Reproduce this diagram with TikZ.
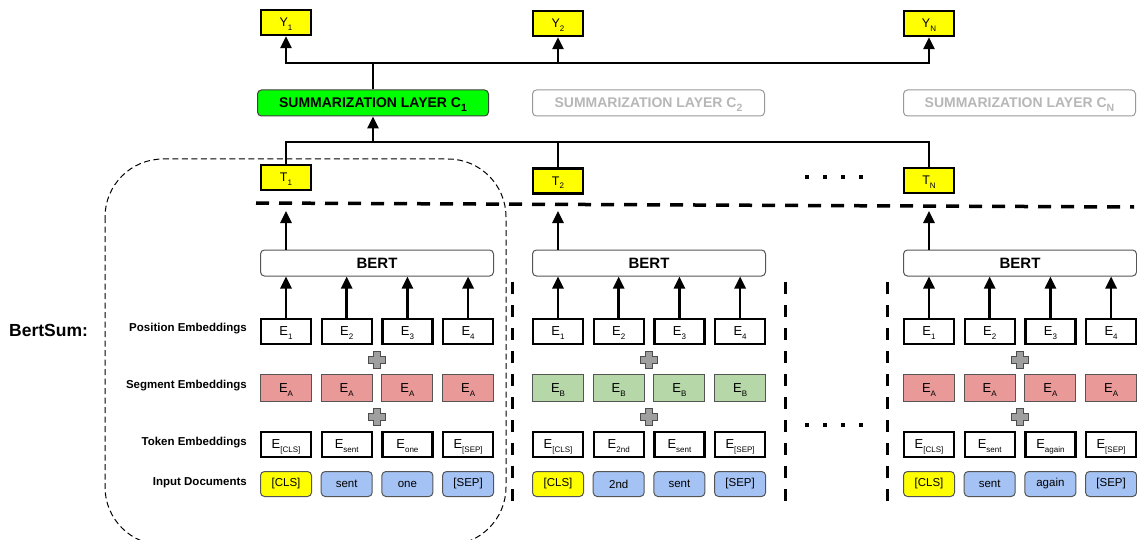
\documentclass[tikz,border=0pt]{standalone}
\usepackage{fontspec}
\setmainfont{Liberation Sans}
\usetikzlibrary{arrows.meta}

\definecolor{segA}{HTML}{EA9999}
\definecolor{segB}{HTML}{B6D7A8}
\definecolor{inpblue}{HTML}{A4C2F4}
\definecolor{hlyellow}{HTML}{FFFF00}
\definecolor{sumgreen}{HTML}{00FF00}
\definecolor{fadegray}{HTML}{B7B7B7}
\definecolor{edgegray}{HTML}{555555}

% subscripts that hang below the baseline without changing the box height
\newcommand\lowsub[1]{\raisebox{-3.6pt}[0pt][0pt]{\fontsize{8}{8}\selectfont #1}}
\newcommand\bigsub[1]{\raisebox{-4pt}[0pt][0pt]{\fontsize{10.5}{10.5}\selectfont #1}}

\begin{document}
\begin{tikzpicture}[x=1pt,y=-1pt,
  outbox/.style={draw=black,line width=2.3pt,fill=hlyellow,minimum width=50pt,
    minimum height=25pt,inner sep=0pt,font=\fontsize{12.5}{12.5}\selectfont},
  posbox/.style={draw=black,line width=2.3pt,fill=white,minimum width=50pt,
    minimum height=25pt,inner sep=0pt,font=\fontsize{13}{13}\selectfont},
  segbox/.style={draw=edgegray,line width=1pt,minimum width=51pt,
    minimum height=27pt,inner sep=0pt,font=\fontsize{13}{13}\selectfont},
  docbox/.style={draw=edgegray,line width=1pt,rounded corners=4pt,minimum width=51pt,
    minimum height=25pt,inner sep=0pt,font=\fontsize{11.5}{11.5}\selectfont},
  bertbox/.style={draw=edgegray,line width=1pt,rounded corners=4pt,fill=white,
    minimum width=233pt,minimum height=26pt,inner sep=0pt,
    font=\fontsize{15}{15}\selectfont\bfseries},
  sumbox/.style={line width=1pt,rounded corners=4pt,minimum height=26pt,
    inner sep=0pt,font=\fontsize{14}{14}\selectfont\bfseries},
  rowlabel/.style={anchor=base east,inner sep=0pt,font=\fontsize{11.5}{11.5}\selectfont\bfseries},
  conn/.style={line width=2.6pt,draw=black},
  arr/.style={conn,-{Triangle[length=12pt,width=11pt]}},
  plussign/.pic={\filldraw[fill=gray!75,draw=black!70,line width=0.9pt]
    (-3.4,-8.5) -- (3.4,-8.5) -- (3.4,-3.4) -- (8.5,-3.4) -- (8.5,3.4) -- (3.4,3.4)
    -- (3.4,8.5) -- (-3.4,8.5) -- (-3.4,3.4) -- (-8.5,3.4) -- (-8.5,-3.4)
    -- (-3.4,-3.4) -- cycle;},
  dot/.style={fill=black,minimum size=4.5pt,inner sep=0pt}
]
\useasboundingbox (0,0) rectangle (1137,540);

% first document's region
\draw[dash pattern=on 6pt off 3.5pt,line width=1pt,rounded corners=58pt]
  (105,159) rectangle (506,545);

% separators
\draw[line width=3.5pt,dash pattern=on 13pt off 10pt] (256,203) -- (1134,207);
\foreach \sx in {512,785,887}
  \draw[line width=3pt,dash pattern=on 12pt off 11pt] (\sx,282) -- (\sx,506);

% dots
\foreach \dx [count=\k] in {807,825,843,861} {
  \node[dot] (dt-\k) at (\dx,177) {};
  \node[dot] (db-\k) at (\dx,425) {};
}

\node[anchor=base west,inner sep=0pt,font=\fontsize{17.5}{17.5}\selectfont\bfseries]
  (title) at (9,336) {BertSum:};

\node[rowlabel] (lab-pos) at (247,331.5) {Position Embeddings};
\node[rowlabel] (lab-seg) at (247,388.5) {Segment Embeddings};
\node[rowlabel] (lab-tok) at (247,445) {Token Embeddings};
\node[rowlabel] (lab-inp) at (247,485) {Input Documents};

% three input documents, each through BERT
\foreach \g/\x/\sc/\sl/\toklist in {
    1/260/segA/A/{[CLS],sent,one,[SEP]},
    2/532/segB/B/{[CLS],2nd,sent,[SEP]},
    3/903/segA/A/{[CLS],sent,again,[SEP]}} {
  \node[bertbox] (bert-\g) at (\x+117,263) {BERT};
  \pic at (\x+117,360) {plussign};
  \pic at (\x+117,417) {plussign};
  \foreach \t [count=\i] in \toklist {
    \pgfmathsetmacro\cx{\x+26+(\i-1)*60.7}
    \def\wfill{inpblue}\ifnum\i=1 \def\wfill{hlyellow}\fi
    \node[posbox] (pos-\g-\i) at (\cx,331.5) {E\lowsub{\i}};
    \node[segbox,fill=\sc] (seg-\g-\i) at (\cx,388) {E\lowsub{\sl}};
    \node[posbox] (tok-\g-\i) at (\cx,444.5) {E\lowsub{\t}};
    \node[docbox,fill=\wfill] (doc-\g-\i) at (\cx,484) {\t};
    \draw[arr] (pos-\g-\i.north) -- (pos-\g-\i.north |- bert-\g.south);
  }
  \coordinate (tin-\g) at (\x+26,211);
  \draw[arr] (pos-\g-1.north |- bert-\g.north) -- (tin-\g);
}

% sentence vectors
\node[outbox] (T1) at (286,177.5) {T\lowsub{1}};
\node[outbox] (T2) at (558,181) {T\lowsub{2}};
\node[outbox] (TN) at (929,180.5) {T\lowsub{N}};

% summarization layers
\node[sumbox,draw=black!75,fill=sumgreen,minimum width=231pt] (C1) at (373,103)
  {SUMMARIZATION LAYER C\bigsub{1}};
\node[sumbox,draw=gray!80,fill=white,text=fadegray,minimum width=232pt] (C2) at (648.5,103)
  {SUMMARIZATION LAYER C\bigsub{2}};
\node[sumbox,draw=gray!80,fill=white,text=fadegray,minimum width=232pt] (CN) at (1019.5,103)
  {SUMMARIZATION LAYER C\bigsub{N}};

% outputs
\node[outbox] (Y1) at (286,22.5) {Y\lowsub{1}};
\node[outbox] (Y2) at (558,23.5) {Y\lowsub{2}};
\node[outbox] (YN) at (929,23.5) {Y\lowsub{N}};

% sentence vectors into the first summarization layer
\coordinate (jin) at (373,142);
\draw[conn] (T2.north) |- (jin);
\draw[conn] (TN.north) |- (jin);
\draw[arr] (T1.north) |- (jin) -- (C1.south);

% summarization layer out to the labels
\coordinate (jout) at (373,63);
\draw[conn] (C1.north) -- (jout);
\draw[arr] (jout) -| (Y1.south);
\draw[arr] (jout) -| (Y2.south);
\draw[arr] (jout) -| (YN.south);
\end{tikzpicture}
\end{document}
